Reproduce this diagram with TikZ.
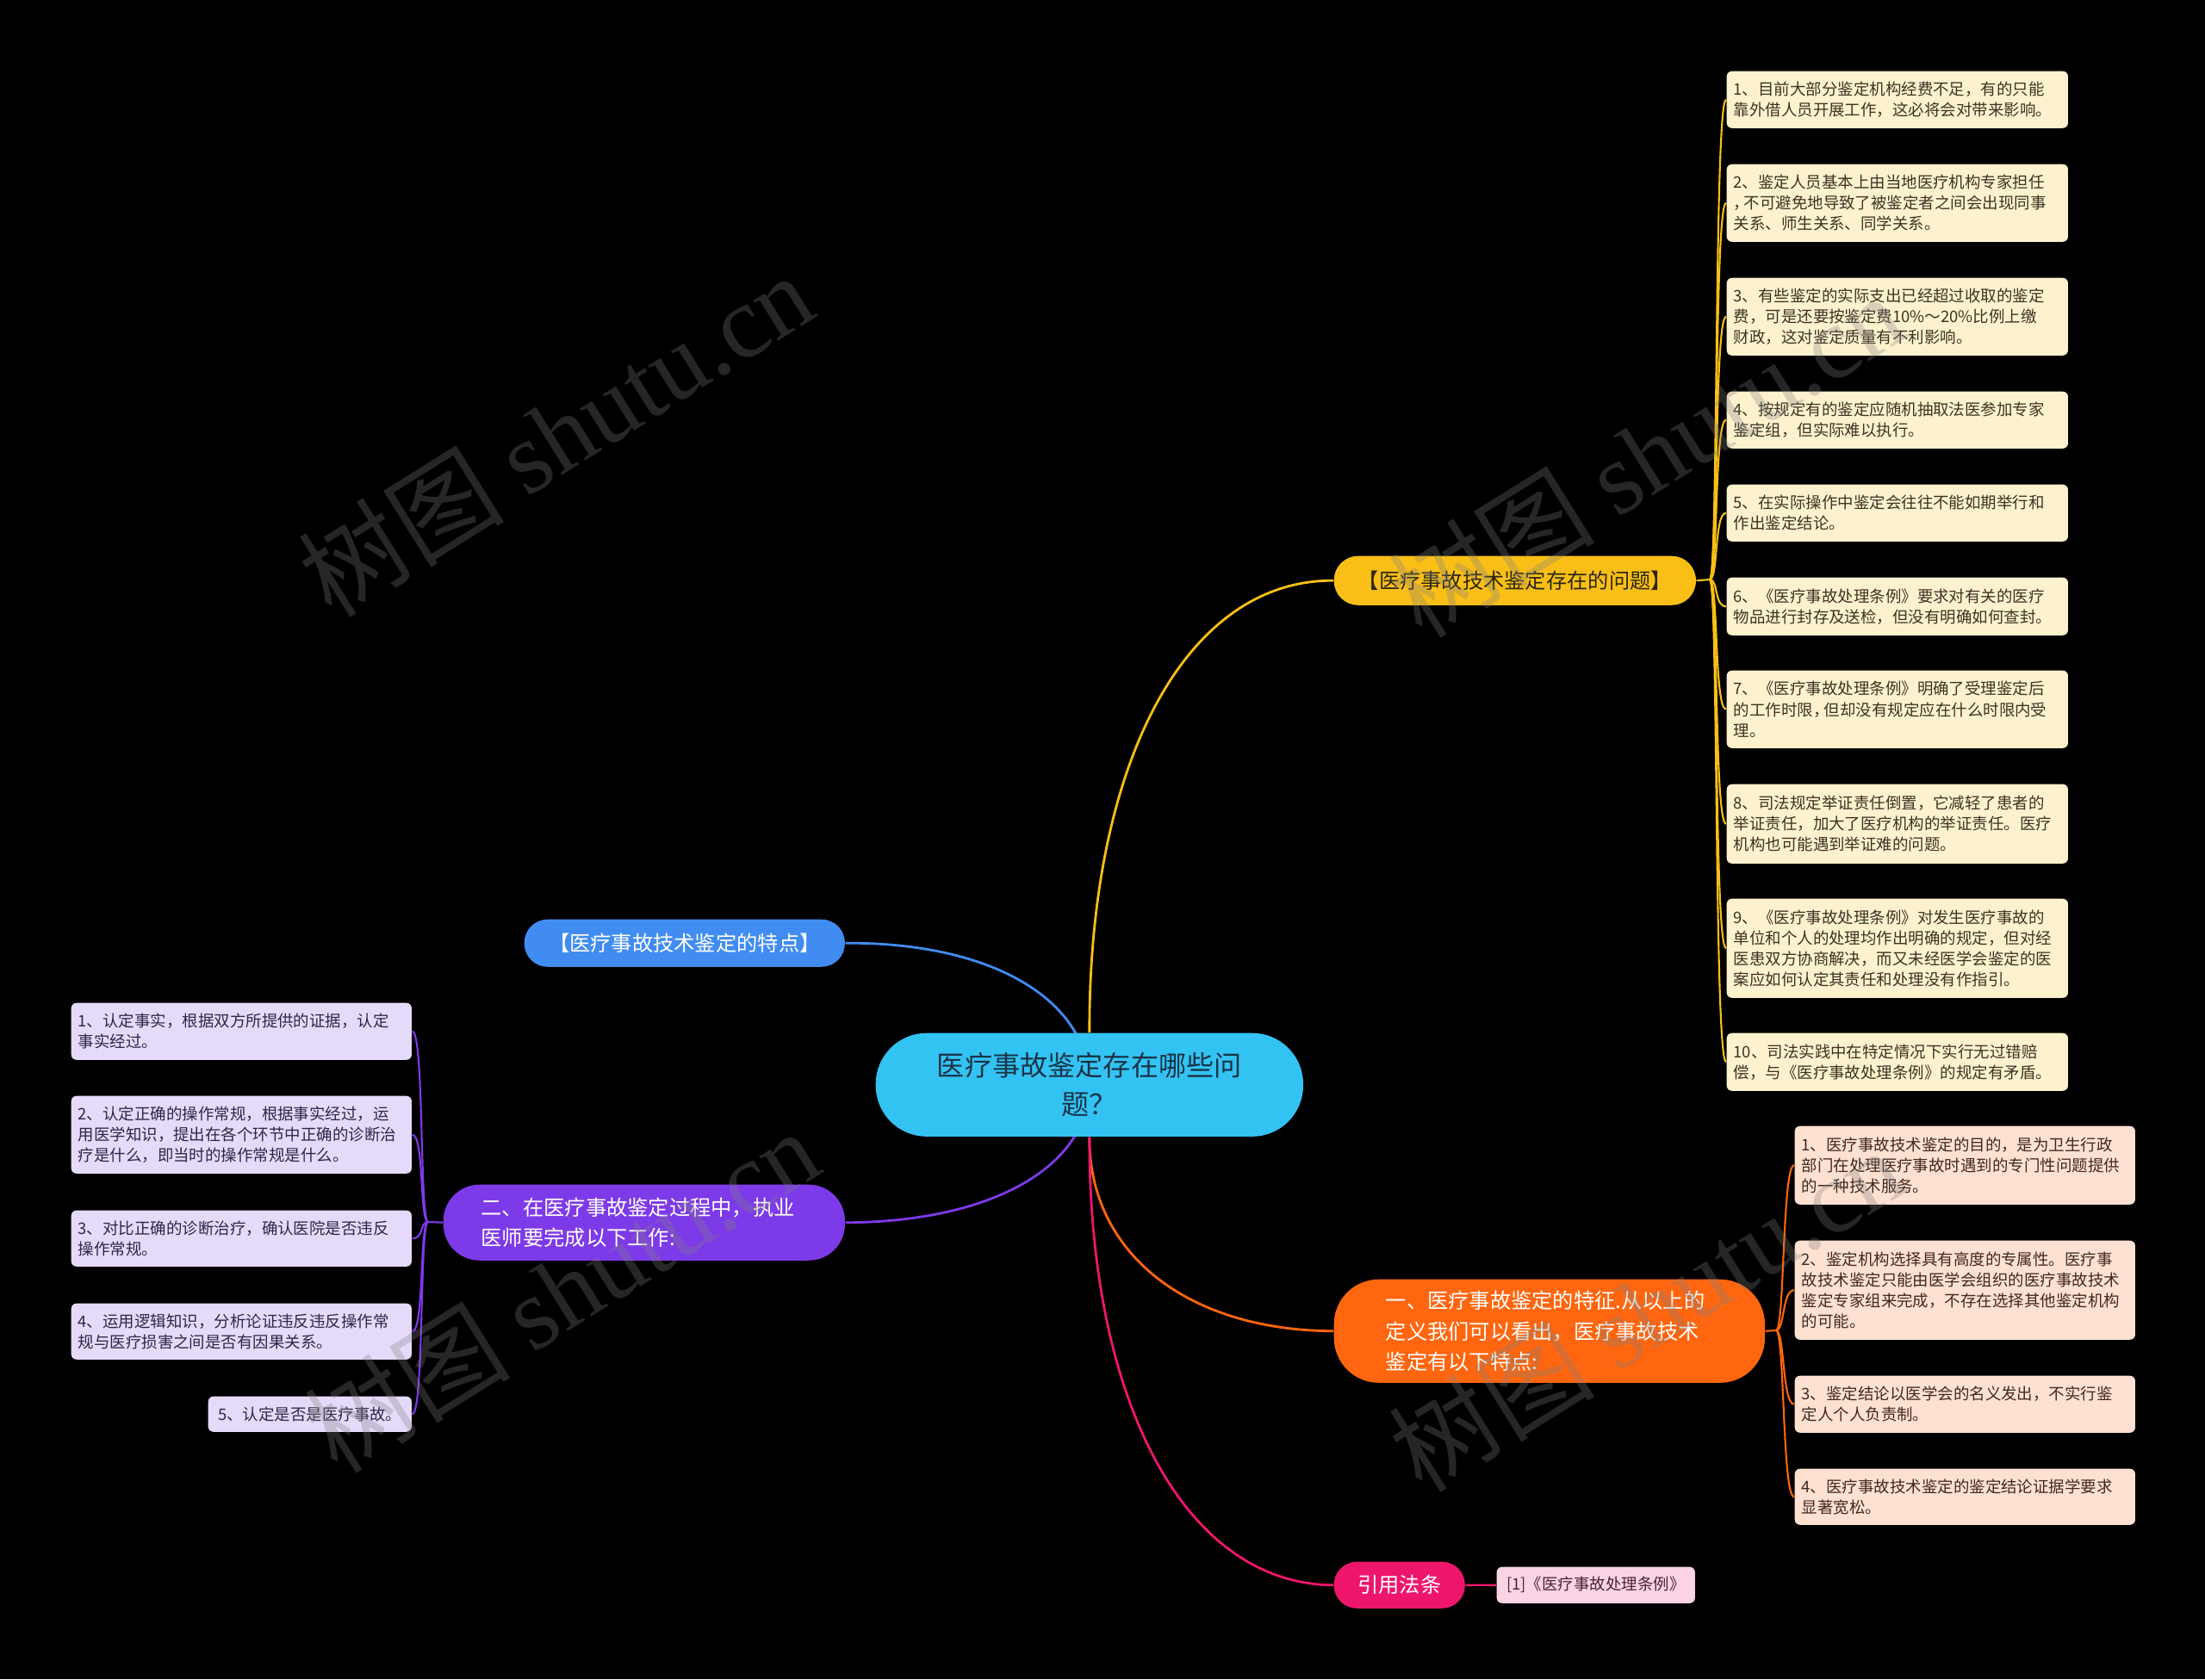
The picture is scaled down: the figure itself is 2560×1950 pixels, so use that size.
\documentclass[tikz,border=0pt]{standalone}
\usepackage{fontspec}
\setmainfont{Noto Sans CJK SC}
\newfontfamily\wmserif{Liberation Serif}
\usetikzlibrary{calc}
\definecolor{rootc}{HTML}{33C3F3}
\definecolor{roott}{HTML}{173447}
\definecolor{yc}{HTML}{F9BF16}
\definecolor{yt}{HTML}{2B2610}
\definecolor{ylf}{HTML}{FEF2CE}
\definecolor{ylt}{HTML}{3A3422}
\definecolor{bc}{HTML}{418CF0}
\definecolor{pc}{HTML}{7D3AE8}
\definecolor{plf}{HTML}{E6DAFA}
\definecolor{plt}{HTML}{2F2842}
\definecolor{oc}{HTML}{FF660F}
\definecolor{olf}{HTML}{FFE1D2}
\definecolor{olt}{HTML}{3E2A20}
\definecolor{kc}{HTML}{EE166C}
\definecolor{klf}{HTML}{FCD3E4}
\definecolor{klt}{HTML}{452634}
\pgfdeclarelayer{back}
\pgfdeclarelayer{edges}
\pgfdeclarelayer{wm}
\pgfsetlayers{back,edges,main,wm}
\begin{document}
\begin{tikzpicture}[x=0.01cm,y=-0.01cm,
  lone/.style={anchor=north west, inner sep=0pt, align=center, font=\fontsize{6.9pt}{10pt}\selectfont},
  leafbase/.style={anchor=north west, rounded corners=0.06cm, inner xsep=0.08cm, inner ysep=0pt, align=left, font=\fontsize{5.25pt}{6.83pt}\selectfont},
  yleaf/.style={leafbase, fill=ylf, text=ylt, minimum width=3.96cm, text width=3.80cm},
  oleaf/.style={leafbase, fill=olf, text=olt, minimum width=3.95cm, text width=3.79cm},
  pleaf/.style={leafbase, fill=plf, text=plt, minimum width=3.95cm, text width=3.79cm},
  maincon/.style={line width=0.8pt},
  leafcon/.style={line width=0.6pt},
  wmark/.style={text=gray, text opacity=0.3, font=\fontsize{34pt}{34pt}\selectfont, rotate=32}
]
\begin{pgfonlayer}{back}
\fill[black] (0,0) rectangle (2560,1950);
\end{pgfonlayer}
\useasboundingbox (0,0) rectangle (2560,1950);

% root
\node[anchor=north west, fill=rootc, text=roott, rounded corners=0.59cm, minimum width=4.96cm, minimum height=1.20cm, text width=4.4cm, inner xsep=0.28cm, inner ysep=0pt, align=center, font=\fontsize{9.15pt}{12.8pt}\selectfont] (root) at (1016,1199) {医疗事故鉴定存在哪些问\\题？};

% level one
\node[lone, fill=yc, text=yt, rounded corners=0.28cm, minimum width=4.2cm, minimum height=0.57cm] (Y) at (1548,645) {【医疗事故技术鉴定存在的问题】};
\node[lone, fill=bc, text=white, rounded corners=0.27cm, minimum width=3.72cm, minimum height=0.55cm] (B) at (608,1067) {【医疗事故技术鉴定的特点】};
\node[lone, fill=pc, text=white, rounded corners=0.42cm, minimum height=0.88cm, text width=3.78cm, inner xsep=0.44cm, align=left] (P) at (514,1375) {二、在医疗事故鉴定过程中，执业\\医师要完成以下工作:};
\node[lone, fill=oc, text=white, rounded corners=0.52cm, minimum height=1.2cm, text width=3.8cm, inner xsep=0.6cm, align=left] (O) at (1548,1485) {一、医疗事故鉴定的特征.从以上的\\定义我们可以看出，医疗事故技术\\鉴定有以下特点:};
\node[lone, fill=kc, text=white, rounded corners=0.265cm, minimum width=1.52cm, minimum height=0.54cm] (K) at (1548,1813) {引用法条};

% yellow leaves
\node[yleaf, minimum height=0.66cm] (y1) at (2004,82) {1、目前大部分鉴定机构经费不足，有的只能\\靠外借人员开展工作，这必将会对带来影响。};
\node[yleaf, minimum height=0.90cm] (y2) at (2004,190) {2、鉴定人员基本上由当地医疗机构专家担任\\，\kern-0.35em 不可避免地导致了被鉴定者之间会出现同事\\关系、师生关系、同学关系。};
\node[yleaf, minimum height=0.90cm] (y3) at (2004,322) {3、有些鉴定的实际支出已经超过收取的鉴定\\费，可是还要按鉴定费10\%～20\%比例上缴\\财政，这对鉴定质量有不利影响。};
\node[yleaf, minimum height=0.66cm] (y4) at (2004,454) {4、按规定有的鉴定应随机抽取法医参加专家\\鉴定组，但实际难以执行。};
\node[yleaf, minimum height=0.66cm] (y5) at (2004,562) {5、在实际操作中鉴定会往往不能如期举行和\\作出鉴定结论。};
\node[yleaf, minimum height=0.67cm] (y6) at (2004,670) {6、《医疗事故处理条例》要求对有关的医疗\\物品进行封存及送检，但没有明确如何查封。};
\node[yleaf, minimum height=0.90cm] (y7) at (2004,778) {7、《医疗事故处理条例》明确了受理鉴定后\\的工作时限，\kern-0.3em 但却没有规定应在什么时限内受\\理。};
\node[yleaf, minimum height=0.92cm] (y8) at (2004,910) {8、司法规定举证责任倒置，它减轻了患者的\\举证责任，加大了医疗机构的举证责任。医疗\\机构也可能遇到举证难的问题。};
\node[yleaf, minimum height=1.15cm] (y9) at (2004,1043) {9、《医疗事故处理条例》对发生医疗事故的\\单位和个人的处理均作出明确的规定，但对经\\医患双方协商解决，而又未经医学会鉴定的医\\案应如何认定其责任和处理没有作指引。};
\node[yleaf, minimum height=0.67cm] (y10) at (2004,1199) {10、司法实践中在特定情况下实行无过错赔\\偿，与《医疗事故处理条例》的规定有矛盾。};

% orange leaves
\node[oleaf, minimum height=0.91cm] (o1) at (2083,1307) {1、医疗事故技术鉴定的目的，是为卫生行政\\部门在处理医疗事故时遇到的专门性问题提供\\的一种技术服务。};
\node[oleaf, minimum height=1.15cm] (o2) at (2083,1440) {2、鉴定机构选择具有高度的专属性。医疗事\\故技术鉴定只能由医学会组织的医疗事故技术\\鉴定专家组来完成，不存在选择其他鉴定机构\\的可能。};
\node[oleaf, minimum height=0.66cm] (o3) at (2083,1597) {3、鉴定结论以医学会的名义发出，不实行鉴\\定人个人负责制。};
\node[oleaf, minimum height=0.65cm] (o4) at (2083,1705) {4、医疗事故技术鉴定的鉴定结论证据学要求\\显著宽松。};

% purple leaves
\node[pleaf, minimum height=0.66cm] (p1) at (82,1164) {1、认定事实，根据双方所提供的证据，认定\\事实经过。};
\node[pleaf, minimum height=0.90cm] (p2) at (82,1272) {2、认定正确的操作常规，根据事实经过，运\\用医学知识，提出在各个环节中正确的诊断治\\疗是什么，即当时的操作常规是什么。};
\node[pleaf, minimum height=0.65cm] (p3) at (82,1405) {3、对比正确的诊断治疗，确认医院是否违反\\操作常规。};
\node[pleaf, minimum height=0.65cm] (p4) at (82,1513) {4、运用逻辑知识，分析论证违反违反操作常\\规与医疗损害之间是否有因果关系。};
\node[leafbase, fill=plf, text=plt, minimum width=2.36cm, minimum height=0.41cm, align=center] (p5) at (241,1621) {5、认定是否是医疗事故。};

% pink leaf
\node[leafbase, fill=klf, text=klt, minimum width=2.30cm, minimum height=0.42cm, align=center] (k1) at (1737,1819) {[1]《医疗事故处理条例》};

% connectors
\begin{pgfonlayer}{edges}
\draw[maincon, yc] (root.north) .. controls (1264,883) and (1378,673) .. (Y.west);
\draw[maincon, bc] (root.center) .. controls (1264,1160) and (1150,1094) .. (B.east);
\draw[maincon, pc] (root.center) .. controls (1264,1356) and (1150,1419) .. (P.east);
\draw[maincon, oc] (root.south) .. controls (1264,1455) and (1378,1545) .. (O.west);
\draw[maincon, kc] (root.south) .. controls (1264,1632) and (1378,1840) .. (K.west);

\coordinate (yj) at (1985,673);
\draw[leafcon, yc] (Y.east) -- (yj);
\foreach \n in {y1,y2,y3,y4,y5,y6,y7,y8,y9,y10}
  \draw[leafcon, yc] (yj) .. controls +(10,0) and +(-14,0) .. (\n.west);

\coordinate (oj) at (2062,1545);
\draw[leafcon, oc] (O.east) -- (oj);
\foreach \n in {o1,o2,o3,o4}
  \draw[leafcon, oc] (oj) .. controls +(10,0) and +(-14,0) .. (\n.west);

\coordinate (pj) at (497,1419);
\draw[leafcon, pc] (P.west) -- (pj);
\foreach \n in {p1,p2,p3,p4,p5}
  \draw[leafcon, pc] (pj) .. controls +(-10,0) and +(14,0) .. (\n.east);

\draw[leafcon, kc] (K.east) -- (k1.west);
\end{pgfonlayer}

% watermarks
\begin{pgfonlayer}{wm}
\node[wmark] (wm1) at (645,504) {树图 {\wmserif shutu.cn}};
\node[wmark] (wm2) at (1911,528) {树图 {\wmserif shutu.cn}};
\node[wmark] (wm3) at (652,1498) {树图 {\wmserif shutu.cn}};
\node[wmark] (wm4) at (1911,1520) {树图 {\wmserif shutu.cn}};
\end{pgfonlayer}
\end{tikzpicture}
\end{document}
